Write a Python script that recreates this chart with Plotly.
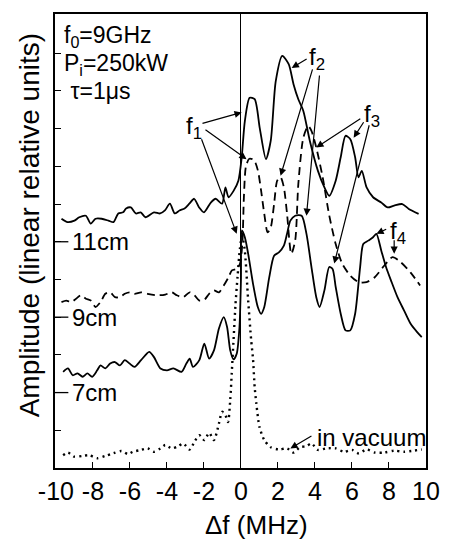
import plotly.graph_objects as go

# ---- data (Δf in MHz, amplitude in linear relative units) ----
x_11cm = [-9.70,-9.37,-9.0,-8.74,-8.38,-8.12,-7.86,-7.53,-7.16,-6.89,-6.63,-6.37,-6.21,-5.95,-5.68,-5.42,-5.16,-4.70,-4.37,-4.11,-3.84,-3.58,-3.32,-3.05,-2.79,-2.53,-2.26,-2.0,-1.63,-1.37,-1.02,-0.84,-0.67,-0.40,-0.14,0.04,0.21,0.47,0.74,1.02,1.35,1.61,1.88,2.23,2.58,2.84,3.1,3.37,3.72,4.16,4.51,4.77,5.12,5.39,5.65,5.91,6.17,6.35,6.53,6.79,7.14,7.58,7.93,8.28,8.72,9.07,9.6]
y_11cm = [6.61,6.52,6.56,6.65,6.69,6.48,6.61,6.61,6.56,6.52,6.75,6.78,6.88,6.91,6.75,6.78,6.65,6.78,6.75,6.83,7.01,6.75,6.83,6.88,7.01,7.14,6.91,6.78,7.04,7.14,7.01,7.44,7.18,7.35,7.62,8.24,9.2,9.82,9.78,9.0,8.19,8.68,10.26,10.93,10.71,10.18,9.78,9.47,8.68,7.88,7.44,7.22,7.62,8.24,8.81,8.72,8.24,7.71,7.88,7.44,7.18,7.04,6.91,6.96,7.0,6.87,6.74]

x_9cm = [-9.70,-9.44,-9.17,-8.91,-8.65,-8.38,-8.12,-7.86,-7.59,-7.33,-7.07,-6.81,-6.54,-6.28,-6.02,-5.75,-5.40,-5.05,-4.53,-4.09,-3.74,-3.47,-3.12,-2.77,-2.51,-2.25,-1.98,-1.72,-1.46,-1.19,-0.93,-0.67,-0.49,-0.23,-0.05,0.08,0.16,0.27,0.45,0.7,0.91,1.09,1.26,1.44,1.61,1.79,1.96,2.14,2.32,2.49,2.72,2.93,3.1,3.37,3.63,3.81,4.07,4.42,4.77,5.12,5.47,5.91,6.35,6.79,7.23,7.75,8.19,8.63,9.16,9.68]
y_9cm = [4.40,4.44,4.40,4.49,4.58,4.49,4.44,4.27,4.40,4.62,4.66,4.53,4.53,4.62,4.66,4.62,4.66,4.62,4.58,4.60,4.66,4.58,4.53,4.66,4.58,4.44,4.46,4.62,4.71,4.66,4.84,5.06,5.24,5.28,5.42,6.0,7.2,8.0,8.2,8.17,7.9,7.35,6.74,6.25,6.38,7.0,7.62,7.71,7.44,6.74,5.68,6.03,7.53,8.76,9.07,8.94,8.5,7.7,6.7,5.94,5.42,5.1,4.93,4.93,5.06,5.37,5.59,5.46,5.19,4.84]

x_7cm = [-9.61,-9.35,-9.09,-8.83,-8.56,-8.30,-8.04,-7.77,-7.59,-7.33,-7.07,-6.81,-6.54,-6.28,-6.02,-5.75,-5.40,-4.96,-4.70,-4.35,-4.0,-3.65,-3.21,-2.95,-2.77,-2.59,-2.25,-1.98,-1.72,-1.46,-1.19,-0.93,-0.75,-0.58,-0.40,-0.23,-0.08,0.0,0.05,0.21,0.39,0.65,0.91,1.09,1.26,1.53,1.79,2.05,2.32,2.49,2.67,2.93,3.28,3.54,3.81,4.07,4.25,4.51,4.77,4.95,5.12,5.39,5.65,5.91,6.17,6.44,6.61,6.88,7.14,7.32,7.58,7.84,8.11,8.46,8.81,9.16,9.51,9.77]
y_7cm = [2.55,2.64,2.46,2.51,2.42,2.51,2.42,2.59,2.72,2.64,2.77,2.81,2.72,2.86,2.77,2.68,2.86,3.08,2.94,2.64,2.59,2.64,2.55,2.77,2.90,2.68,2.86,3.30,2.90,3.12,3.70,4.0,3.74,3.12,2.88,3.03,3.74,5.0,6.3,6.12,5.68,4.89,4.27,4.09,4.27,5.06,5.63,5.72,5.90,6.21,6.56,6.69,6.69,6.21,5.33,4.53,4.27,4.71,5.33,5.28,4.80,4.09,3.65,3.65,4.09,5.33,5.94,6.03,6.12,6.21,5.77,5.33,4.97,4.53,4.18,3.83,3.61,3.47]

x_vac = [-9.61,-9.35,-9.0,-8.56,-8.21,-7.77,-7.33,-6.89,-6.46,-6.11,-5.84,-5.40,-5.05,-4.70,-4.35,-4.09,-3.74,-3.38,-3.12,-2.77,-2.51,-2.25,-1.98,-1.72,-1.46,-1.19,-1.02,-0.84,-0.70,-0.58,-0.50,-0.40,-0.30,-0.18,-0.06,0.06,0.2,0.39,0.55,0.65,0.74,0.83,1.0,1.26,1.61,2.05,2.49,2.84,3.19,3.54,3.81,4.16,4.60,5.12,5.56,6.0,6.35,6.79,7.23,7.75,8.28,8.81,9.33,9.77]
y_vac = [0.34,0.41,0.30,0.32,0.34,0.26,0.32,0.39,0.45,0.37,0.43,0.48,0.52,0.43,0.52,0.61,0.52,0.58,0.65,0.49,0.70,0.87,0.74,0.93,0.74,1.18,1.49,1.40,1.22,1.80,2.5,3.4,4.3,5.1,5.8,6.15,5.8,4.44,3.4,2.9,2.15,1.71,1.09,0.74,0.55,0.49,0.52,0.41,0.55,0.58,0.65,0.48,0.52,0.52,0.43,0.48,0.39,0.49,0.41,0.41,0.46,0.43,0.46,0.49]

x_ticks = [-10, -8, -6, -4, -2, 0, 2, 4, 6, 8, 10]
x_ticktext = ["-10", "-8", "-6", "-4", "-2", "0", "2", "4", "6", "8", "10"]
y_ticks = [1, 2, 3, 4, 5, 6, 7, 8, 9, 10, 11]
curve_labels = ["11cm", "9cm", "7cm"]
curve_label_levels = [6, 4, 2]

FONT = "Arial, Liberation Sans, Helvetica, sans-serif"
FS = 24

fig = go.Figure()
fig.add_trace(go.Scatter(x=x_11cm, y=y_11cm, mode="lines", name="11cm",
                         line=dict(color="black", width=1.8, shape="spline", smoothing=0.7)))
fig.add_trace(go.Scatter(x=x_9cm, y=y_9cm, mode="lines", name="9cm",
                         line=dict(color="black", width=1.8, dash="8px,5px", shape="spline", smoothing=0.7)))
fig.add_trace(go.Scatter(x=x_7cm, y=y_7cm, mode="lines", name="7cm",
                         line=dict(color="black", width=1.8, shape="spline", smoothing=0.7)))
fig.add_trace(go.Scatter(x=x_vac, y=y_vac, mode="lines", name="in vacuum",
                         line=dict(color="black", width=2.4, dash="2px,4px", shape="spline", smoothing=0.7)))

# long ticks with curve labels
for lab, lev in zip(curve_labels, curve_label_levels):
    fig.add_shape(type="line", xref="paper", yref="y", x0=0, x1=0.036, y0=lev, y1=lev,
                  line=dict(color="black", width=1.3))
    fig.add_annotation(xref="paper", yref="y", x=0.04, y=lev, text=lab, showarrow=False,
                       xanchor="left", yanchor="middle", font=dict(size=FS, family=FONT, color="black"))

# parameters text
for txt, yp in [("f<sub>0</sub>=9GHz", 0.95), ("P<sub>i</sub>=250kW", 0.888), (" τ=1μs", 0.83)]:
    fig.add_annotation(xref="paper", yref="paper", x=0.018, y=yp, text=txt, showarrow=False,
                       xanchor="left", yanchor="middle", font=dict(size=FS - 1, family=FONT, color="black"))

# labels for peaks
labels = [("f<sub>1</sub>", -2.53, 9.02), ("f<sub>2</sub>", 4.1, 10.85), ("f<sub>3</sub>", 7.1, 9.34),
          ("f<sub>4</sub>", 8.5, 6.24), ("in vacuum", 7.05, 0.82)]
for txt, lx, ly in labels:
    fig.add_annotation(x=lx, y=ly, text=txt, showarrow=False, xanchor="center", yanchor="middle",
                       font=dict(size=FS, family=FONT, color="black"))

# arrows: (tail x, tail y, head x, head y)
arrows = [(-2.16, 9.13, 0.04, 9.43), (-2.0, 9.0, 0.3, 8.19), (-2.16, 8.76, -0.23, 6.21),
          (3.63, 10.87, 2.74, 10.61), (3.89, 10.61, 2.14, 7.75), (4.25, 10.45, 3.54, 6.69),
          (6.53, 9.29, 4.07, 8.5), (6.68, 9.21, 6.09, 8.76), (6.95, 9.13, 5.04, 5.42),
          (7.93, 6.35, 7.32, 6.21), (8.28, 6.08, 8.28, 5.68),
          (3.89, 0.87, 2.67, 0.52)]
for tx, ty, hx, hy in arrows:
    fig.add_annotation(x=hx, y=hy, ax=tx, ay=ty, xref="x", yref="y", axref="x", ayref="y",
                       text="", showarrow=True, arrowhead=2, arrowsize=1.2, arrowwidth=1.2,
                       arrowcolor="black", standoff=0, startstandoff=0)

# axis titles
fig.add_annotation(xref="paper", yref="paper", x=0.543, y=-0.125, text="Δf (MHz)", showarrow=False,
                   xanchor="center", yanchor="middle", font=dict(size=26, family=FONT, color="black"))
fig.add_annotation(xref="paper", yref="paper", x=-0.068, y=0.534, text="Amplitude (linear relative units)",
                   showarrow=False, textangle=-90, xanchor="center", yanchor="middle",
                   font=dict(size=28, family=FONT, color="black"))

fig.update_layout(
    width=452, height=544,
    margin=dict(l=55, r=16, t=13, b=76),
    paper_bgcolor="white", plot_bgcolor="white",
    showlegend=False,
    font=dict(family=FONT, size=FS, color="black"),
)
fig.update_xaxes(range=[-10.05, 10.0], tickvals=x_ticks, ticktext=x_ticktext, ticks="inside", ticklen=6,
                 tickwidth=1.3, tickcolor="black", showline=True, linecolor="black", linewidth=1.6,
                 mirror=True, showgrid=False, zeroline=True, zerolinecolor="black", zerolinewidth=1.3,
                 tickfont=dict(size=25, family=FONT, color="black"))
fig.update_yaxes(range=[0, 12.04], tickvals=y_ticks, showticklabels=False, ticks="inside", ticklen=6,
                 tickwidth=1.3, tickcolor="black", showline=True, linecolor="black", linewidth=1.6,
                 mirror=True, showgrid=False, zeroline=False)

fig.write_html("out.html")
